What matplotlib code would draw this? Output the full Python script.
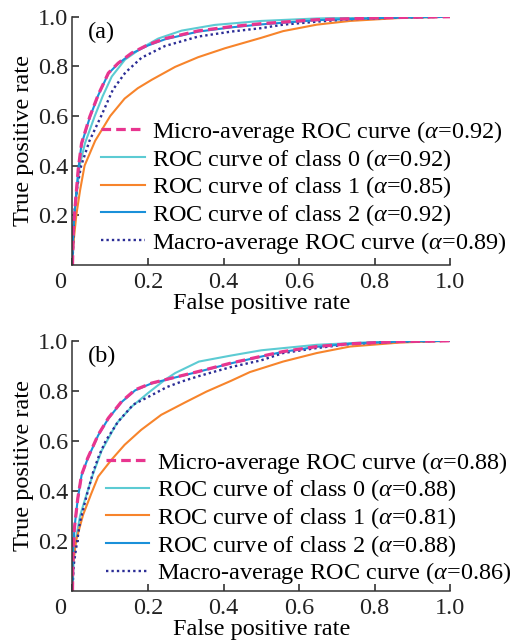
import matplotlib
matplotlib.use("Agg")
import matplotlib.pyplot as plt
import matplotlib.transforms as mtransforms

plt.rcParams["font.family"] = ["Liberation Serif", "DejaVu Serif"]
plt.rcParams["mathtext.fontset"] = "custom"
plt.rcParams["mathtext.rm"] = "Liberation Serif"
plt.rcParams["mathtext.it"] = "Liberation Serif:italic"

# ---- panel (a) ----
micro_a_fpr = [0, 0.002, 0.007, 0.015, 0.024, 0.046, 0.068, 0.095, 0.121, 0.157, 0.2, 0.245, 0.333, 0.42, 0.5, 0.647, 0.823, 1.0]
micro_a_tpr = [0, 0.14, 0.235, 0.383, 0.49, 0.598, 0.685, 0.773, 0.813, 0.854, 0.887, 0.912, 0.943, 0.96, 0.972, 0.988, 0.996, 1.0]
c0_a_fpr = [0, 0.005, 0.019, 0.033, 0.059, 0.08, 0.104, 0.139, 0.183, 0.227, 0.289, 0.377, 0.5, 0.647, 0.8, 1.0]
c0_a_tpr = [0, 0.2, 0.4, 0.49, 0.6, 0.68, 0.759, 0.827, 0.874, 0.912, 0.944, 0.967, 0.983, 0.993, 0.998, 1.0]
c1_a_fpr = [0, 0.002, 0.01, 0.02, 0.032, 0.06, 0.1, 0.138, 0.173, 0.21, 0.272, 0.333, 0.404, 0.5, 0.558, 0.647, 0.735, 0.868, 1.0]
c1_a_tpr = [0, 0.08, 0.2, 0.3, 0.4, 0.5, 0.6, 0.67, 0.712, 0.746, 0.798, 0.837, 0.873, 0.915, 0.942, 0.968, 0.983, 0.995, 1.0]
c2_a_fpr = [0, 0.002, 0.007, 0.015, 0.024, 0.046, 0.068, 0.095, 0.121, 0.157, 0.2, 0.245, 0.333, 0.42, 0.5, 0.647, 0.823, 1.0]
c2_a_tpr = [0, 0.14, 0.235, 0.38, 0.487, 0.595, 0.683, 0.771, 0.811, 0.852, 0.884, 0.909, 0.94, 0.957, 0.969, 0.986, 0.995, 1.0]
macro_a_fpr = [0, 0.004, 0.012, 0.023, 0.045, 0.076, 0.107, 0.14, 0.183, 0.245, 0.333, 0.42, 0.5, 0.558, 0.647, 0.735, 0.868, 1.0]
macro_a_tpr = [0, 0.2, 0.31, 0.4, 0.5, 0.6, 0.706, 0.775, 0.835, 0.882, 0.92, 0.94, 0.954, 0.968, 0.98, 0.99, 0.997, 1.0]
auc_a = [0.92, 0.92, 0.85, 0.92, 0.89]

# ---- panel (b) ----
micro_b_fpr = [0, 0.001, 0.005, 0.014, 0.024, 0.04, 0.068, 0.095, 0.13, 0.166, 0.21, 0.263, 0.333, 0.42, 0.5, 0.558, 0.647, 0.735, 0.868, 1.0]
micro_b_tpr = [0, 0.14, 0.25, 0.37, 0.464, 0.53, 0.624, 0.691, 0.757, 0.804, 0.831, 0.851, 0.877, 0.911, 0.938, 0.957, 0.977, 0.988, 0.997, 1.0]
c0_b_fpr = [0, 0.003, 0.008, 0.02, 0.038, 0.055, 0.077, 0.117, 0.157, 0.2, 0.245, 0.272, 0.335, 0.42, 0.5, 0.647, 0.823, 1.0]
c0_b_tpr = [0, 0.12, 0.2, 0.3, 0.39, 0.47, 0.56, 0.67, 0.737, 0.791, 0.844, 0.871, 0.917, 0.941, 0.962, 0.984, 0.997, 1.0]
c1_b_fpr = [0, 0.001, 0.01, 0.028, 0.05, 0.068, 0.103, 0.138, 0.182, 0.235, 0.3, 0.355, 0.42, 0.47, 0.558, 0.647, 0.735, 0.868, 1.0]
c1_b_tpr = [0, 0.104, 0.204, 0.304, 0.39, 0.457, 0.524, 0.584, 0.644, 0.704, 0.755, 0.797, 0.84, 0.875, 0.917, 0.951, 0.977, 0.993, 1.0]
c2_b_fpr = [0, 0.001, 0.005, 0.014, 0.024, 0.04, 0.068, 0.095, 0.13, 0.166, 0.21, 0.263, 0.333, 0.42, 0.5, 0.558, 0.647, 0.735, 0.868, 1.0]
c2_b_tpr = [0, 0.14, 0.25, 0.368, 0.462, 0.528, 0.622, 0.689, 0.755, 0.802, 0.83, 0.85, 0.876, 0.91, 0.937, 0.956, 0.976, 0.988, 0.997, 1.0]
macro_b_fpr = [0, 0.003, 0.007, 0.02, 0.038, 0.055, 0.07, 0.088, 0.121, 0.161, 0.2, 0.25, 0.289, 0.333, 0.377, 0.42, 0.5, 0.558, 0.647, 0.735, 0.868, 1.0]
macro_b_tpr = [0, 0.1, 0.144, 0.277, 0.384, 0.477, 0.54, 0.6, 0.677, 0.745, 0.775, 0.815, 0.837, 0.858, 0.877, 0.895, 0.922, 0.951, 0.971, 0.987, 0.997, 1.0]
auc_b = [0.88, 0.88, 0.81, 0.88, 0.86]

names = ["Micro-average ROC curve", "ROC curve of class 0", "ROC curve of class 1",
         "ROC curve of class 2", "Macro-average ROC curve"]
colors = ["#e8358f", "#5ccbd3", "#f7842b", "#1a90d9", "#2b2d96"]
ticks = [0, 0.2, 0.4, 0.6, 0.8, 1.0]
tick_labels = ["0", "0.2", "0.4", "0.6", "0.8", "1.0"]
FS = 17.5


def roc_panel(ax, curves, aucs, tag, leg_x, leg_y):
    styles = [dict(ls=(0, (3, 1.6)), lw=2.3), dict(ls="-", lw=1.5), dict(ls="-", lw=1.5),
              dict(ls="-", lw=1.5), dict(ls=(0, (1, 1.3)), lw=1.7)]
    # draw order: class curves first, then averages on top
    order = [1, 2, 4, 3, 0]
    handles = {}
    for i in order:
        fpr, tpr = curves[i]
        label = names[i] + r" ($\alpha$=" + f"{aucs[i]:.2f})"
        (h,) = ax.plot(fpr, tpr, color=colors[i], label=label, **styles[i])
        handles[i] = h
    ax.set_xlim(0, 1)
    ax.set_ylim(0, 1)
    ax.spines["top"].set_visible(False)
    ax.spines["right"].set_visible(False)
    for s in ["left", "bottom"]:
        ax.spines[s].set_linewidth(1.1)
        ax.spines[s].set_color("#333333")
    ax.set_xticks(ticks)
    ax.set_xticklabels(tick_labels)
    ax.set_yticks(ticks[1:])
    ax.set_yticklabels(tick_labels[1:])
    ax.tick_params(direction="in", length=5, width=1.1, labelsize=FS, colors="#222222", pad=3)
    ax.tick_params(axis="x", pad=5)
    lbl0 = ax.get_xticklabels()[0]
    lbl0.set_transform(lbl0.get_transform() + mtransforms.ScaledTranslation(-0.12, 0, ax.figure.dpi_scale_trans))
    ax.set_xlabel("False positive rate", fontsize=FS, labelpad=0)
    ax.set_ylabel("True positive rate", fontsize=FS, labelpad=3)
    ax.text(0.04, 0.98, tag, transform=ax.transAxes, fontsize=FS, va="top", ha="left")
    ax.legend([handles[i] for i in range(5)], [handles[i].get_label() for i in range(5)],
              loc="upper left", bbox_to_anchor=(leg_x, leg_y), frameon=False, fontsize=FS,
              handlelength=1.8, handletextpad=0.3, labelspacing=0.07, borderpad=0, borderaxespad=0)


fig = plt.figure(figsize=(5.16, 6.43), dpi=100)
ax1 = fig.add_axes([0.1405, 0.588, 0.7316, 0.386])
ax2 = fig.add_axes([0.1405, 0.081, 0.7316, 0.389])

roc_panel(ax1, [(micro_a_fpr, micro_a_tpr), (c0_a_fpr, c0_a_tpr), (c1_a_fpr, c1_a_tpr),
                (c2_a_fpr, c2_a_tpr), (macro_a_fpr, macro_a_tpr)], auc_a, "(a)", 0.075, 0.588)
roc_panel(ax2, [(micro_b_fpr, micro_b_tpr), (c0_b_fpr, c0_b_tpr), (c1_b_fpr, c1_b_tpr),
                (c2_b_fpr, c2_b_tpr), (macro_b_fpr, macro_b_tpr)], auc_b, "(b)", 0.088, 0.565)

fig.savefig("out.png", dpi=100)
